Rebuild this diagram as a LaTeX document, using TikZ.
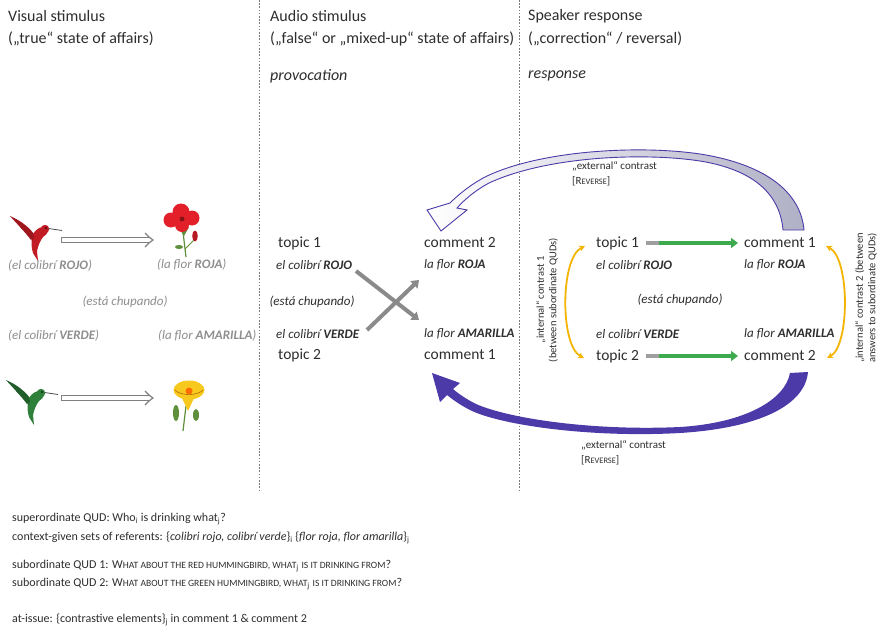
\documentclass[tikz,border=0pt]{standalone}
\usepackage{fontspec}
\setmainfont{Carlito}
\usetikzlibrary{arrows.meta}
\definecolor{ink}{HTML}{2E2E2E}
\definecolor{pale}{HTML}{8E8E8E}
\definecolor{rulegray}{HTML}{7A7A7A}
\definecolor{extblue}{HTML}{4C3AA8}
\definecolor{extfill}{HTML}{B0B0C6}
\definecolor{grn}{HTML}{3DAA4E}
\definecolor{amber}{HTML}{F4B400}
\definecolor{crossgray}{HTML}{8A8A8A}
\definecolor{flred}{HTML}{E3202A}
\definecolor{flyellow}{HTML}{F7C81E}
\definecolor{leaf}{HTML}{5E8F3A}
% fake small capitals: smaller upper-case letters
\newcommand{\qsc}[1]{{\fontsize{9.6}{12}\selectfont #1}}
\newcommand{\rsc}[1]{{\fontsize{8.4}{10}\selectfont #1}}
\begin{document}
\begin{tikzpicture}[x=1pt,y=-1pt,
  hd/.style={font=\fontsize{16}{19}\selectfont, text=ink, anchor=west, inner sep=0pt},
  hdit/.style={hd, font=\fontsize{16}{19}\selectfont\itshape},
  tp/.style={font=\fontsize{15.5}{18}\selectfont, text=ink, anchor=west, inner sep=0pt},
  lb/.style={font=\fontsize{13}{15}\selectfont\itshape, text=ink, anchor=west, inner sep=0pt},
  gl/.style={lb, text=pale},
  rot/.style={font=\fontsize{10.5}{12.5}\selectfont, text=ink, rotate=90, align=center, inner sep=0pt},
  extlab/.style={font=\fontsize{11}{15}\selectfont, text=ink, anchor=west, align=left, inner sep=0pt},
  bt/.style={font=\fontsize{12}{14}\selectfont, text=ink, anchor=west, inner sep=0pt},
  dashline/.style={rulegray, line width=0.6pt, dash pattern=on 1.6pt off 1.6pt},
  hollowouter/.style={gray, line width=6pt, shorten >=4pt},
  hollowinner/.style={white, line width=3.6pt, shorten >=2pt, shorten <=1.2pt},
  hollowhead/.style={gray, line width=1.2pt, line join=miter},
  xarr/.style={crossgray, line width=4pt, -{Triangle[length=7pt,width=10pt]}},
  grnarr/.style={grn, line width=4.4pt, -{Triangle[length=7pt,width=10pt]}},
  amb/.style={amber, line width=1.8pt, {Stealth[length=6pt,width=6pt]}-{Stealth[length=6pt,width=6pt]}},
  bird/.pic={
    \fill[bw] (-1,-3) .. controls (-8,-12) and (-16,-17) .. (-25,-21)
      .. controls (-17,-12) and (-10,-5) .. (-4,3) -- cycle;
    \fill[bb] (11,-10) .. controls (15,-8) and (13,-3) .. (8,0)
      .. controls (5,4) and (3,9) .. (2,14) -- (3,24) -- (-2,16)
      .. controls (-4,10) and (-4,2) .. (-2,-3)
      .. controls (1,-8) and (6,-11) .. (11,-10) -- cycle;
    \fill[bb] (10,-8) circle (4.2);
    \fill[bw] (-1,-1) .. controls (-6,-6) and (-10,-9) .. (-15,-10)
      .. controls (-9,-5) and (-6,0) .. (-2,4) -- cycle;
    \draw[black!70, line width=0.8pt] (13.5,-8.5) -- (27,-6.5);
    \fill[black] (11,-9) circle (0.9);
  }]
\useasboundingbox (0,0) rectangle (884,642);
\fill[white] (0,0) rectangle (884,642);

% column separators
\coordinate (sepAtop) at (259,0);  \coordinate (sepAbot) at (259,492);
\coordinate (sepBtop) at (519,0);  \coordinate (sepBbot) at (519,492);
\draw[dashline] (sepAtop) -- (sepAbot);
\draw[dashline] (sepBtop) -- (sepBbot);

% column headings
\node[hd] (vh1) at (8,16) {Visual stimulus};
\node[hd] (vh2) at (8,39) {(„true“ state of affairs)};
\node[hd] (ah1) at (270,16) {Audio stimulus};
\node[hd] (ah2) at (270,39) {(„false“ or „mixed-up“ state of affairs)};
\node[hdit] (ap) at (270,76) {provocation};
\node[hd] (sh1) at (528,16) {Speaker response};
\node[hd] (sh2) at (528,39) {(„correction“ / reversal)};
\node[hdit] (sr) at (528,76) {response};

% visual stimulus: birds and flowers
\begin{scope}[shift={(35,237)}]
  \colorlet{bb}{flred!85!black}\colorlet{bw}{flred!70!black}
  \pic {bird};
\end{scope}
\begin{scope}[shift={(31,401)}]
  \colorlet{bb}{grn!75!black}\colorlet{bw}{grn!55!black}
  \pic {bird};
\end{scope}
% red flower
\draw[leaf, line width=1.2pt] (183,232) -- (186,257);
\draw[leaf, line width=1pt] (185,249) -- (194,240);
\fill[leaf] (179,247) ellipse [x radius=4, y radius=2];
\fill[flred!80!black] (195,236) ellipse [x radius=2.8, y radius=5.5];
\fill[leaf] (178,227) -- (189,227) -- (184,236) -- cycle;
\fill[flred] (171,220) circle (7.5);
\fill[flred] (181,212) circle (8.5);
\fill[flred] (192,218) circle (7.5);
\fill[flred] (182,225) circle (7);
\fill[flred!60!black] (182,219) circle (2.5);
% yellow flower
\draw[leaf, line width=1.2pt] (186,406) -- (183,431);
\fill[leaf] (176,413) ellipse [x radius=3, y radius=8];
\fill[leaf] (196,415) ellipse [x radius=3, y radius=6];
\fill[flyellow] (181,396) -- (195,396) -- (188,411) -- cycle;
\fill[flyellow] (189,390) ellipse [x radius=15.5, y radius=9.5];
\fill[orange!85!red] (189,391) circle (3.5);
\draw[orange!60!black, line width=0.4pt] (175,390) .. controls (180,396) and (198,396) .. (203,390);

% hollow double-line arrows between the pictures
\coordinate (hb1) at (61,240); \coordinate (hf1) at (153,240);
\coordinate (hb2) at (61,398); \coordinate (hf2) at (153,398);
\foreach \s/\t in {hb1/hf1, hb2/hf2} {
  \draw[hollowouter] (\s) -- (\t);
  \draw[hollowinner] (\s) -- (\t);
  \draw[hollowhead] ([shift={(-8,-7)}]\t) .. controls ([shift={(-3,-2)}]\t) .. (\t)
    .. controls ([shift={(-3,2)}]\t) .. ([shift={(-8,7)}]\t);
}

% captions of the visual stimulus
\node[gl] (lc1) at (8,266) {(el colibrí \textbf{ROJO})};
\node[gl] (lf1) at (157,265) {(la flor \textbf{ROJA})};
\node[gl, anchor=center] (lv) at (125,302) {(está chupando)};
\node[gl] (lc2) at (8,336) {(el colibrí \textbf{VERDE})};
\node[gl] (lf2) at (158,336) {(la flor \textbf{AMARILLA})};

% audio stimulus
\node[tp] (t1m) at (278,243) {topic 1};
\node[lb] (t1ml) at (276,265) {el colibrí \textbf{ROJO}};
\node[tp] (c2m) at (424,243) {comment 2};
\node[lb] (c2ml) at (424,265) {la flor \textbf{ROJA}};
\node[lb, anchor=center] (vm) at (312,302) {(está chupando)};
\node[lb] (t2ml) at (276,334) {el colibrí \textbf{VERDE}};
\node[tp] (t2m) at (278,355) {topic 2};
\node[lb] (c1ml) at (424,334) {la flor \textbf{AMARILLA}};
\node[tp] (c1m) at (424,355) {comment 1};
\coordinate (xa1) at (356,271); \coordinate (xa2) at (419,320);
\coordinate (xb1) at (367,330); \coordinate (xb2) at (419,280);
\draw[xarr] (xa1) -- (xa2);
\draw[xarr] (xb1) -- (xb2);

% speaker response
\node[tp] (t1r) at (596,243) {topic 1};
\node[lb] (t1rl) at (596,265) {el colibrí \textbf{ROJO}};
\node[tp] (c1r) at (744,243) {comment 1};
\node[lb] (c1rl) at (744,265) {la flor \textbf{ROJA}};
\node[lb, anchor=center] (vr) at (680,300) {(está chupando)};
\node[lb] (t2rl) at (596,334) {el colibrí \textbf{VERDE}};
\node[lb] (c2rl) at (744,334) {la flor \textbf{AMARILLA}};
\node[tp] (t2r) at (596,356) {topic 2};
\node[tp] (c2r) at (744,356) {comment 2};
\draw[grnarr, shorten <=7pt, shorten >=6pt] (t1r.east) -- (c1r.west);
\draw[grnarr, shorten <=7pt, shorten >=6pt] (t2r.east) -- (c2r.west);
\draw[gray!75, line width=4.4pt, shorten <=7pt] (t1r.east) -- ++(20,0);
\draw[gray!75, line width=4.4pt, shorten <=7pt] (t2r.east) -- ++(20,0);

% internal contrasts
\coordinate (ia1) at (585,246); \coordinate (ia2) at (584,358);
\coordinate (ib1) at (826,246); \coordinate (ib2) at (827,358);
\draw[amb] (ia1) .. controls (560,258) and (560,346) .. (ia2);
\draw[amb] (ib1) .. controls (850,258) and (850,346) .. (ib2);
\node[rot] (il) at (547,300) {„internal“ contrast 1\\(between subordinate QUDs)};
\node[rot] (ir) at (866,298) {„internal“ contrast 2 (between\\answers to subordinate QUDs)};

% external contrast, upper arrow (tapering, shaded, open head)
\draw[extblue, line width=0.9pt, left color=white, right color=extfill]
  (804,230) .. controls (801,195) and (770,165) .. (700,154)
  .. controls (640,145) and (540,150) .. (485,177)
  .. controls (470,185) and (458,195) .. (450,203)
  -- (427,210) -- (441,231) -- (467,210) -- (457,208)
  .. controls (465,199) and (476,190) .. (489,183)
  .. controls (545,157) and (640,152) .. (700,161)
  .. controls (755,170) and (780,195) .. (783,230) -- cycle;
\node[extlab] (el1) at (572,174) {„external“ contrast\\{[}R\rsc{EVERSE}{]}};

% external contrast, lower arrow (tapering, solid)
\fill[extblue]
  (808,372) .. controls (805,405) and (760,428) .. (680,433)
  .. controls (590,438) and (500,425) .. (470,410)
  .. controls (460,405) and (452,399) .. (447,395)
  -- (440,402) -- (432,373) -- (460,383) -- (453,389)
  .. controls (460,395) and (468,400) .. (476,404)
  .. controls (510,419) and (595,431) .. (680,427)
  .. controls (745,423) and (785,400) .. (790,373) -- cycle;
\node[extlab] (el2) at (581,453) {„external“ contrast\\{[}R\rsc{EVERSE}{]}};

% questions under discussion
\node[bt] (q0) at (12,519) {superordinate QUD: Who\textsubscript{i} is drinking what\textsubscript{j}?};
\node[bt] (q1) at (12,538) {context-given sets of referents: \{\textit{colibri rojo, colibrí verde}\}\textsubscript{i} \{\textit{flor roja, flor amarilla}\}\textsubscript{j}};
\node[bt] (q2) at (12,566) {subordinate QUD 1: W\qsc{HAT ABOUT THE RED HUMMINGBIRD, WHAT}\textsubscript{j} \qsc{IS IT DRINKING FROM}?};
\node[bt] (q3) at (12,584) {subordinate QUD 2: W\qsc{HAT ABOUT THE GREEN HUMMINGBIRD, WHAT}\textsubscript{j} \qsc{IS IT DRINKING FROM}?};
\node[bt] (q4) at (12,620) {at-issue: \{contrastive elements\}\textsubscript{j} in comment 1 \& comment 2};
\end{tikzpicture}
\end{document}
